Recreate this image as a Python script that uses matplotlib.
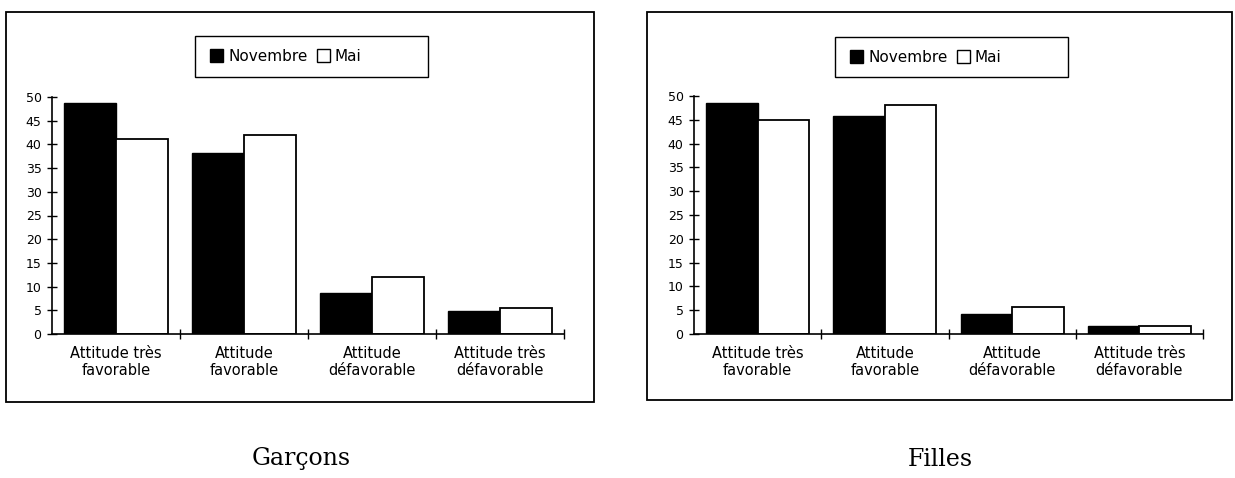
import numpy as np
import matplotlib.pyplot as plt
from matplotlib.patches import Rectangle, Patch

# Data
categories = ['Attitude très\nfavorable', 'Attitude\nfavorable',
              'Attitude\ndéfavorable', 'Attitude très\ndéfavorable']
garcons_novembre = [48.7, 38.2, 8.7, 4.8]
garcons_mai = [41.1, 42.0, 12.1, 5.5]
filles_novembre = [48.6, 45.8, 4.1, 1.6]
filles_mai = [44.9, 48.2, 5.7, 1.6]
series_labels = ['Novembre', 'Mai']
panel_titles = ['Garçons', 'Filles']

plt.rcParams['font.family'] = ['DejaVu Sans']

W, H = 1235, 478
fig = plt.figure(figsize=(W / 100, H / 100), dpi=100)


def px_axes(x0, y0, x1, y1):
    # pixel box (from top-left) -> figure fraction axes
    return fig.add_axes([x0 / W, 1 - y1 / H, (x1 - x0) / W, (y1 - y0) / H])


def frame(x0, y0, x1, y1, lw=1.3):
    fig.patches.append(Rectangle((x0 / W, 1 - y1 / H), (x1 - x0) / W, (y1 - y0) / H,
                                 transform=fig.transFigure, fill=False,
                                 edgecolor='black', linewidth=lw))


panels = [
    dict(nov=garcons_novembre, mai=garcons_mai, box=(6, 12, 594, 402),
         ax=(52, 97, 564, 334), leg=(195, 36, 428, 77), title_x=301),
    dict(nov=filles_novembre, mai=filles_mai, box=(647, 12, 1232, 400),
         ax=(694, 96, 1203, 334), leg=(835, 37, 1068, 77), title_x=940),
]

x = np.arange(len(categories))
bw = 0.405

for p, title in zip(panels, panel_titles):
    frame(*p['box'])
    ax = px_axes(*p['ax'])
    ax.bar(x - bw / 2, p['nov'], bw, color='black', edgecolor='black', linewidth=1)
    ax.bar(x + bw / 2, p['mai'], bw, color='white', edgecolor='black', linewidth=1.3)
    ax.set_xlim(-0.5, len(categories) - 0.5)
    ax.set_ylim(0, 50)
    ax.set_yticks(np.arange(0, 51, 5))
    ax.set_xticks(x)
    ax.set_xticklabels(categories, fontsize=10.5, linespacing=1.15)
    ax.set_xticks(np.arange(0.5, len(categories) + 0.5, 1), minor=True)
    ax.tick_params(axis='x', which='major', length=0, pad=9)
    ax.tick_params(axis='x', which='minor', length=7, direction='inout', width=1)
    ax.tick_params(axis='y', length=7, direction='inout', width=1, labelsize=9, pad=4)
    for s in ['top', 'right']:
        ax.spines[s].set_visible(False)
    for s in ['left', 'bottom']:
        ax.spines[s].set_linewidth(1.2)
    ax.patch.set_alpha(0)

    # legend box
    lx0, ly0, lx1, ly1 = p['leg']
    handles = [Patch(facecolor='black', edgecolor='black'),
               Patch(facecolor='white', edgecolor='black')]
    fig.legend(handles, series_labels, ncol=2, loc='center left',
               bbox_to_anchor=((lx0 + 4) / W, 1 - (ly0 + ly1) / 2 / H),
               fontsize=11, frameon=False, handlelength=0.9, handleheight=0.9,
               handletextpad=0.3, columnspacing=0.6, borderpad=0.2)
    frame(lx0, ly0, lx1, ly1, lw=1.0)

    fig.text(p['title_x'] / W, 1 - 459 / H, title, ha='center', va='center',
             fontsize=17, family=['DejaVu Serif'])

fig.savefig('out.png', dpi=100)
